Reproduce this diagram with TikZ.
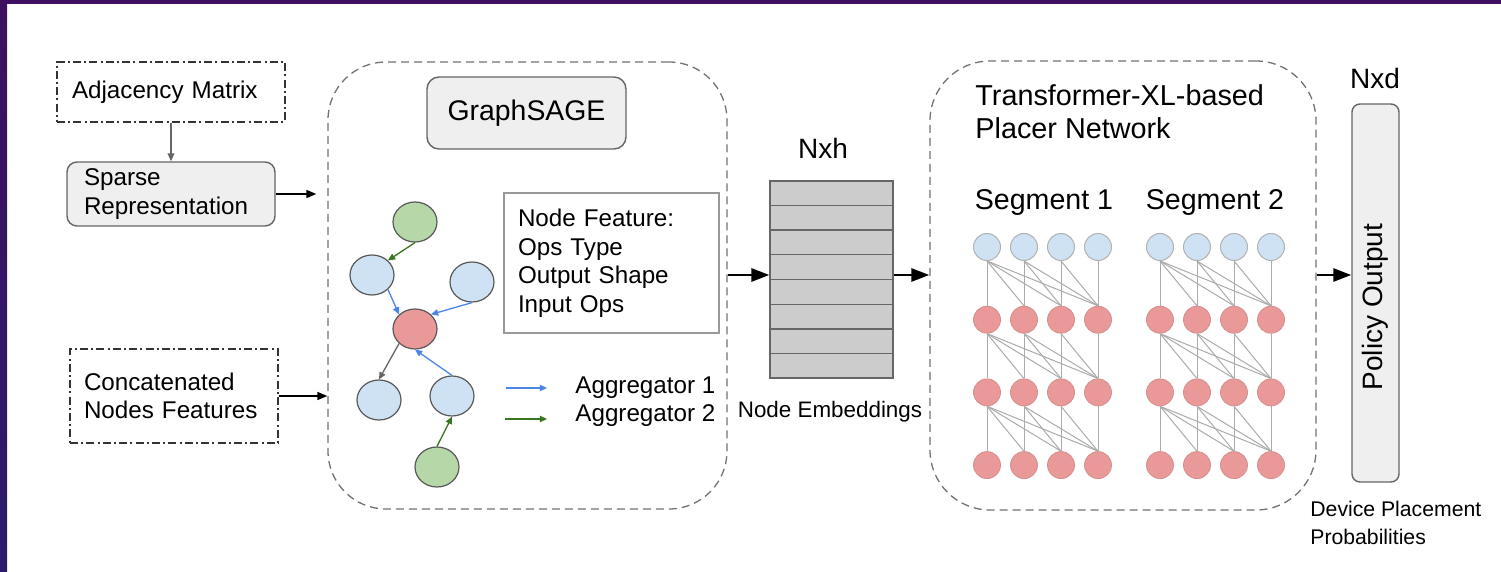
\documentclass[tikz,border=0pt]{standalone}
\usepackage{fontspec}
\setmainfont{Liberation Sans}
\usetikzlibrary{arrows.meta,shapes.geometric,calc}

\definecolor{gblue}{HTML}{CFE2F3}
\definecolor{ggreen}{HTML}{B6D7A8}
\definecolor{gred}{HTML}{EA9999}
\definecolor{panel}{HTML}{EFEFEF}
\definecolor{edgegray}{HTML}{666666}
\definecolor{aggblue}{HTML}{4A86E8}
\definecolor{agggreen}{HTML}{38761D}
\definecolor{linkgray}{HTML}{ABABAB}
\definecolor{stackgray}{HTML}{CCCCCC}
\definecolor{frameA}{HTML}{3E0F5F}
\definecolor{frameB}{HTML}{2C1B6B}

\newcommand{\fsz}[2]{\fontsize{#1}{#2}\selectfont}

\begin{document}
\begin{tikzpicture}[x=0.5pt,y=-0.5pt,
  body/.style={font=\fsz{12.1pt}{14.25pt}},
  dashdotbox/.style={draw=black!80, line width=0.7pt,
    dash pattern=on 4pt off 1.6pt on 1pt off 1.6pt, align=left, inner ysep=0pt, body},
  softbox/.style={draw=edgegray, fill=panel, line width=0.7pt, rounded corners=5pt},
  container/.style={draw=black!55, line width=0.65pt, dash pattern=on 4pt off 2.5pt,
    rounded corners=29pt, inner sep=0pt},
  gnode/.style={ellipse, draw=black!65, line width=0.6pt, minimum width=22pt,
    minimum height=20pt, inner sep=0pt},
  bluecirc/.style={circle, minimum size=13.5pt, inner sep=0pt, fill=gblue, draw=black!30, line width=0.5pt},
  redcirc/.style={circle, minimum size=13.5pt, inner sep=0pt, fill=gred, draw=gred!92!black, line width=0.4pt},
  link/.style={draw=linkgray, line width=0.5pt},
  aggedge/.style={line width=0.65pt, -{Triangle[length=3.6pt,width=3.2pt]}},
  grayarrow/.style={draw=edgegray, line width=0.6pt, -{Triangle[length=4pt,width=3.4pt]}},
  thinarrow/.style={draw=black, line width=0.75pt, -{Triangle[length=5pt,width=4pt]}},
  thickarrow/.style={draw=black, line width=1.4pt, -{Triangle[length=9pt,width=6.5pt]}},
  plain/.style={inner sep=0pt},
]
\useasboundingbox (0,0) rectangle (1501,572);
\fill[white] (0,0) rectangle (1501,572);
% slide frame
\shade[top color=frameA, bottom color=frameB] (0,0) rectangle (7,572);
\fill[frameA] (0,0) rectangle (1501,4);

% ---- inputs ----
\node[dashdotbox, minimum width=114pt, minimum height=30pt, inner xsep=7.5pt, text width=99pt]
  (adj) at (171,92) {Adjacency Matrix};
\node[softbox, body, align=left, minimum width=104pt, minimum height=32pt, inner xsep=8.5pt,
  inner ysep=0pt, text width=87pt, font=\fsz{12.1pt}{14.5pt}]
  (sp) at (171,194) {Sparse\\Representation};
\node[dashdotbox, minimum width=104pt, minimum height=47pt, inner xsep=7pt, text width=90pt,
  font=\fsz{12.1pt}{14pt}]
  (cn) at (174,396) {Concatenated\\Nodes Features};

% ---- GraphSAGE block ----
\node[container, minimum width=199.5pt, minimum height=223.5pt] (sage) at (527.5,285.5) {};
\node[softbox, rounded corners=6pt, minimum width=99.5pt, minimum height=36pt,
  font=\fsz{14.2pt}{17pt}] (gs) at (526.5,113) {GraphSAGE};
\node[draw=black!40, line width=0.6pt, minimum width=107.5pt, minimum height=70pt,
  inner xsep=7pt, text width=93.5pt, align=left, body] (nf) at (611.5,263)
  {Node Feature:\\Ops Type\\Output Shape\\Input Ops};

\node[gnode, fill=ggreen] (g1) at (415,222) {};
\node[gnode, fill=gblue]  (b1) at (372,275) {};
\node[gnode, fill=gblue]  (b2) at (472,282) {};
\node[gnode, fill=gred]   (rc) at (415,329) {};
\node[gnode, fill=gblue]  (b3) at (379,400) {};
\node[gnode, fill=gblue]  (b4) at (452,396) {};
\node[gnode, fill=ggreen] (g2) at (437,467) {};

\draw[aggedge, agggreen] (g1.south) -- (b1.north east);
\draw[aggedge, aggblue]  (b1.south east) -- (rc.north west);
\draw[aggedge, aggblue]  (b2.south) -- (rc.north east);
\draw[aggedge, edgegray] (rc.south west) -- (b3.north);
\draw[aggedge, aggblue]  (b4.north) -- (rc.south);
\draw[aggedge, agggreen] (g2.north) -- (b4.south);

% legend
\coordinate (l1s) at (506,388); \coordinate (l1e) at (547,388);
\coordinate (l2s) at (505,419); \coordinate (l2e) at (547,419);
\draw[aggedge, aggblue]  (l1s) -- (l1e);
\draw[aggedge, agggreen] (l2s) -- (l2e);
\node[plain, anchor=west, body] (a1) at (575,388) {Aggregator 1};
\node[plain, anchor=west, body] (a2) at (575,416) {Aggregator 2};

% ---- node embeddings ----
\node[font=\fsz{14pt}{16pt}, plain] (nxh) at (823,148) {Nxh};
\node[draw=edgegray, fill=stackgray, line width=0.6pt, minimum width=61.5pt,
  minimum height=98.5pt, inner sep=0pt] (emb) at (831.5,279.5) {};
\foreach \k in {1,...,7}
  \draw[edgegray, line width=0.6pt]
    ($(emb.north west)!\k/8!(emb.south west)$) -- ($(emb.north east)!\k/8!(emb.south east)$);
\node[font=\fsz{11.2pt}{13pt}, plain] (embl) at (830,412) {Node Embeddings};

% ---- Transformer-XL placer ----
\node[container, rounded corners=30pt, minimum width=193pt, minimum height=224.5pt] (tfm) at (1123,285.5) {};
\node[plain, anchor=west, align=left, font=\fsz{14.4pt}{16.5pt}] (ttl) at (975,111.5)
  {Transformer-XL-based\\Placer Network};
\node[plain, font=\fsz{14.3pt}{16pt}] (sg1) at (1044,202) {Segment 1};
\node[plain, font=\fsz{14.3pt}{16pt}] (sg2) at (1215,202) {Segment 2};

% layer links (drawn first, circles on top)
\foreach \s/\xs in {1/987,2/1160} {
  \foreach \c in {0,...,3} {
    \foreach \r in {0,...,3} {
      \pgfmathsetmacro\xx{\xs+37*\c}
      \pgfmathsetmacro\yy{247+72.7*\r}
      \ifnum\r=0 \def\cs{bluecirc}\else\def\cs{redcirc}\fi
      \node[\cs] (t\s-\r-\c) at (\xx,\yy) {};
    }
  }
}
\foreach \s in {1,2} {
  \foreach \r in {0,1,2} {
    \pgfmathtruncatemacro\rn{\r+1}
    \foreach \i in {0,...,3} {
      \foreach \j in {\i,...,3} {
        \draw[link] (t\s-\r-\i.south) -- (t\s-\rn-\j.north);
      }
    }
  }
}

% ---- policy output ----
\node[font=\fsz{14pt}{16pt}, plain] (nxd) at (1375,78) {Nxd};
\node[softbox, rounded corners=4pt, minimum width=23.5pt, minimum height=189pt, inner sep=0pt]
  (pol) at (1375.5,293) {};
\node[plain, rotate=90, font=\fsz{14pt}{16pt}] (pot) at (1375.5,307) {Policy Output};
\node[plain, anchor=west, align=left, font=\fsz{10.6pt}{14pt}] (dpp) at (1310,523)
  {Device Placement\\Probabilities};

% ---- connectors ----
\draw[grayarrow] (adj.south) -- (sp.north);
\draw[thinarrow] (sp.east) -- ([xshift=-5.5pt]sage.west |- sp.east);
\draw[thinarrow] (cn.east) -- (sage.west |- cn.east);
\coordinate (arow) at (0,275);
\draw[thickarrow] (sage.east |- arow) -- (emb.west |- arow);
\draw[thickarrow] (emb.east |- arow) -- (tfm.west |- arow);
\draw[thickarrow] (tfm.east |- arow) -- (pol.west |- arow);
\end{tikzpicture}
\end{document}
